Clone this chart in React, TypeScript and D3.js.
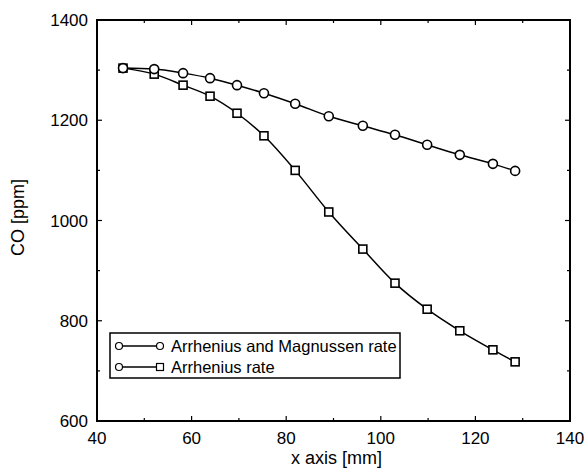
import React, { useEffect, useRef } from "react";
import * as d3 from "d3";

// values
const xAxisMm = [45.5, 52.1, 58.2, 63.9, 69.6, 75.3, 81.9, 89.0, 96.2, 103.0, 109.8, 116.7, 123.7, 128.4];
const coMagnussen = [1304, 1302, 1294, 1284, 1270, 1254, 1233, 1208, 1189, 1171, 1151, 1131, 1113, 1099];
const coArrhenius = [1304, 1292, 1270, 1248, 1214, 1169, 1100, 1017, 943, 875, 823, 780, 742, 718];
const xTicks = [40, 60, 80, 100, 120, 140];
const yTicks = [600, 800, 1000, 1200, 1400];
const legendLabels = ["Arrhenius and Magnussen rate", "Arrhenius rate"];

const W = 586;
const H = 472;
const FONT = "'Liberation Sans', Arial, sans-serif";

export default function App() {
  const ref = useRef<SVGSVGElement>(null);

  useEffect(() => {
    const svg = d3.select(ref.current);
    svg.selectAll("*").remove();

    const left = 97, right = 570, top = 20, bottom = 421;

    const x = d3.scaleLinear().domain([40, 140]).range([left, right]);
    const y = d3.scaleLinear().domain([600, 1400]).range([bottom, top]);

    const g = svg.append("g");

    // minor and major ticks, pointing inward on all four sides
    const xMinor = d3.range(40, 141, 10);
    const yMinor = d3.range(600, 1401, 100);
    xMinor.forEach((v) => {
      const len = v % 20 === 0 ? 5 : 3;
      g.append("line").attr("x1", x(v)).attr("x2", x(v)).attr("y1", bottom).attr("y2", bottom - len)
        .attr("stroke", "#000").attr("stroke-width", 1.2);
      g.append("line").attr("x1", x(v)).attr("x2", x(v)).attr("y1", top).attr("y2", top + len)
        .attr("stroke", "#000").attr("stroke-width", 1.2);
    });
    yMinor.forEach((v) => {
      const len = v % 200 === 0 ? 5 : 3;
      g.append("line").attr("x1", left).attr("x2", left + len).attr("y1", y(v)).attr("y2", y(v))
        .attr("stroke", "#000").attr("stroke-width", 1.2);
      g.append("line").attr("x1", right).attr("x2", right - len).attr("y1", y(v)).attr("y2", y(v))
        .attr("stroke", "#000").attr("stroke-width", 1.2);
    });

    // frame
    g.append("rect")
      .attr("x", left).attr("y", top)
      .attr("width", right - left).attr("height", bottom - top)
      .attr("fill", "none").attr("stroke", "#000").attr("stroke-width", 2);

    // tick labels
    g.selectAll(".xl").data(xTicks).enter().append("text")
      .attr("x", (d) => x(d)).attr("y", bottom + 23)
      .attr("text-anchor", "middle")
      .attr("font-family", FONT).attr("font-size", 17)
      .text((d) => d);

    g.selectAll(".yl").data(yTicks).enter().append("text")
      .attr("x", left - 9).attr("y", (d) => y(d) + 6)
      .attr("text-anchor", "end")
      .attr("font-family", FONT).attr("font-size", 17)
      .text((d) => d);

    // axis titles
    g.append("text")
      .attr("x", (left + right) / 2 + 3).attr("y", 464)
      .attr("text-anchor", "middle")
      .attr("font-family", FONT).attr("font-size", 18)
      .text("x axis [mm]");

    g.append("text")
      .attr("transform", `translate(24, ${(top + bottom) / 2 - 3}) rotate(-90)`)
      .attr("text-anchor", "middle")
      .attr("font-family", FONT).attr("font-size", 18)
      .text("CO [ppm]");

    const line = d3.line<number>()
      .x((_, i) => x(xAxisMm[i]))
      .y((d) => y(d))
      .curve(d3.curveMonotoneX);

    const drawSeries = (vals: number[], shape: "circle" | "square") => {
      g.append("path").attr("d", line(vals))
        .attr("fill", "none").attr("stroke", "#000").attr("stroke-width", 1.5);
      vals.forEach((v, i) => {
        if (shape === "circle") {
          g.append("circle").attr("cx", x(xAxisMm[i])).attr("cy", y(v)).attr("r", 4.5)
            .attr("fill", "#fff").attr("stroke", "#000").attr("stroke-width", 1.6);
        } else {
          g.append("rect").attr("x", x(xAxisMm[i]) - 4).attr("y", y(v) - 4)
            .attr("width", 8).attr("height", 8)
            .attr("fill", "#fff").attr("stroke", "#000").attr("stroke-width", 1.6);
        }
      });
    };

    drawSeries(coArrhenius, "square");
    drawSeries(coMagnussen, "circle");

    // legend
    const lg = g.append("g");
    lg.append("rect")
      .attr("x", 110).attr("y", 333).attr("width", 290).attr("height", 45)
      .attr("fill", "#fff").attr("stroke", "#000").attr("stroke-width", 1.5);
    legendLabels.forEach((label, i) => {
      const ly = 346 + i * 21;
      lg.append("line").attr("x1", 119).attr("x2", 160).attr("y1", ly).attr("y2", ly)
        .attr("stroke", "#000").attr("stroke-width", 1.5);
      lg.append("circle").attr("cx", 119).attr("cy", ly).attr("r", 3.5)
        .attr("fill", "#fff").attr("stroke", "#000").attr("stroke-width", 1.2);
      if (i === 0) {
        lg.append("circle").attr("cx", 160).attr("cy", ly).attr("r", 3.5)
          .attr("fill", "#fff").attr("stroke", "#000").attr("stroke-width", 1.2);
      } else {
        lg.append("rect").attr("x", 156.5).attr("y", ly - 3.5).attr("width", 7).attr("height", 7)
          .attr("fill", "#fff").attr("stroke", "#000").attr("stroke-width", 1.2);
      }
      lg.append("text")
        .attr("x", 171).attr("y", ly + 5.5)
        .attr("font-family", FONT).attr("font-size", 16.5)
        .text(label);
    });
  }, []);

  return (
    <svg ref={ref} width={W} height={H}
      style={{ position: "absolute", left: 0, top: 0, background: "#fff" }} />
  );
}
